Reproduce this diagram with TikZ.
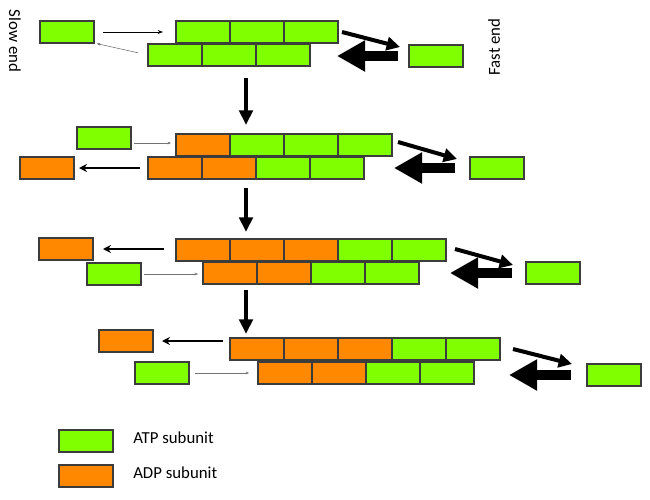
\documentclass[tikz,border=0pt]{standalone}
\usepackage{fontspec}
\setmainfont{Carlito}
\usetikzlibrary{positioning,calc,arrows.meta}
\definecolor{atpgreen}{RGB}{128,255,0}
\definecolor{adporange}{RGB}{255,136,0}
\definecolor{brickline}{RGB}{60,60,60}

\begin{document}
\begin{tikzpicture}[x=0.75pt,y=-0.75pt,
                    brick/.style={draw=brickline,line width=1.5pt,minimum width=40.5pt,
                                  minimum height=16.5pt,inner sep=0pt,outer sep=0pt,anchor=north west},
                    atp/.style={brick,fill=atpgreen},
                    adp/.style={brick,fill=adporange},
                    feed/.style={draw=black!55,line width=0.4pt,-{Stealth[length=2.5pt,width=2pt]}},
                    slowon/.style={line width=0.6pt,-{Stealth[length=4pt,width=3pt]}},
                    slowoff/.style={line width=1.6pt,-{Stealth[length=6pt,width=6pt]}},
                    fasttip/.style={line width=3pt,-{Triangle[length=10pt,width=10pt]}},
                    fastback/.style={line width=8pt,-{Triangle[length=21pt,width=22pt]}},
                    step down/.style={line width=3.6pt,-{Triangle[length=11pt,width=10pt]}},
                    label/.style={font=\fontsize{12.6}{14}\selectfont,inner sep=0pt}
                   ]
  \useasboundingbox (0,0) rectangle (650,500);
  \node[label,rotate=-90] (slow) at (15,41) {Slow end};
  \node[label,rotate=90] (fast) at (494,47) {Fast end};

  % row 1
  \foreach \i/\x in {1/176,2/230,3/284} \node[atp] (r1t\i) at (\x,21) {};
  \foreach \i/\x in {1/148,2/202,3/256} \node[atp] (r1b\i) at (\x,44) {};
  \node[atp] (s1) at (40,21) {};
  \node[atp] (f1) at (409,45) {};
  \draw[slowon,shorten <=6.75,shorten >=9.75] (s1.east) -- (s1.east -| r1t1.west);
  \draw[feed,draw=black!60,shorten <=7.5,shorten >=2.25] (r1b1.west) -- (s1.south east);
  \draw[fasttip] ($(r1t3.east)+(4,0)$) -- ($(f1.north west)+(-9,2)$);
  \draw[fastback,shorten <=8.25,shorten >=20.25] (f1.west) -- (f1.west -| r1b3.east);

  % row 2
  \foreach \i/\c/\x in {1/adp/176,2/atp/230,3/atp/284,4/atp/338} \node[\c] (r2t\i) at (\x,134) {};
  \foreach \i/\c/\x in {1/adp/148,2/adp/202,3/atp/256,4/atp/310} \node[\c] (r2b\i) at (\x,157) {};
  \node[atp] (s2) at (77,127) {};
  \node[adp] (o2) at (20,157) {};
  \node[atp] (f2) at (470,157) {};
  \draw[feed,shorten <=2.25,shorten >=3.75] ($(s2.east)+(0,5)$) -- ($(s2.east -| r2t1.west)+(0,5)$);
  \draw[slowoff,shorten <=6,shorten >=3.75] (r2b1.west |- o2.east) -- (o2.east);
  \draw[fasttip] ($(r2t4.east)+(6,-3)$) -- ($(f2.north west)+(-13,2)$);
  \draw[fastback,shorten <=11.25,shorten >=22.5] (f2.west) -- (f2.west -| r2b4.east);

  % row 3
  \foreach \i/\c/\x in {1/adp/176,2/adp/230,3/adp/284,4/atp/338,5/atp/392} \node[\c] (r3t\i) at (\x,239) {};
  \foreach \i/\c/\x in {1/adp/203,2/adp/257,3/atp/311,4/atp/365} \node[\c] (r3b\i) at (\x,262) {};
  \node[adp] (o3) at (39,238) {};
  \node[atp] (s3) at (87,263) {};
  \node[atp] (f3) at (526,262) {};
  \draw[slowoff,shorten <=9,shorten >=7.5] (r3t1.west |- o3.east) -- (o3.east);
  \draw[feed,shorten <=2.25,shorten >=3.75] (s3.east) -- (s3.east -| r3b1.west);
  \draw[fasttip] ($(r3t5.east)+(9,-1)$) -- ($(f3.north west)+(-13,3)$);
  \draw[fastback,shorten <=10.5,shorten >=23.25] (f3.west) -- (f3.west -| r3b4.east);

  % row 4
  \foreach \i/\c/\x in {1/adp/230,2/adp/284,3/adp/338,4/atp/392,5/atp/446} \node[\c] (r4t\i) at (\x,338) {};
  \foreach \i/\c/\x in {1/adp/258,2/adp/312,3/atp/366,4/atp/420} \node[\c] (r4b\i) at (\x,362) {};
  \node[adp] (o4) at (99,330) {};
  \node[atp] (s4) at (135,362) {};
  \node[atp] (f4) at (587,364) {};
  \draw[slowoff,shorten <=5.25,shorten >=6.75] (r4t1.west |- o4.east) -- (o4.east);
  \draw[feed,shorten <=4.5,shorten >=6.75] (s4.east) -- (s4.east -| r4b1.west);
  \draw[fasttip] ($(r4t5.east)+(13,0)$) -- ($(f4.north west)+(-15,0)$);
  \draw[fastback,shorten <=12,shorten >=26.25] (f4.west) -- (f4.west -| r4b4.east);

  % steps between rows
  \coordinate (d1) at (246,78);  \coordinate (e1) at (246,125);
  \coordinate (d2) at (246,188); \coordinate (e2) at (246,232);
  \coordinate (d3) at (246,290); \coordinate (e3) at (246,334);
  \foreach \k in {1,2,3} \draw[step down] (d\k) -- (e\k);

  % legend
  \node[atp] (keyatp) at (59,430) {};
  \node[adp] (keyadp) at (59,465) {};
  \node[label,anchor=west] (keyatptext) at (133,438) {ATP subunit};
  \node[label,anchor=west] (keyadptext) at (133,473) {ADP subunit};
\end{tikzpicture}
\end{document}
